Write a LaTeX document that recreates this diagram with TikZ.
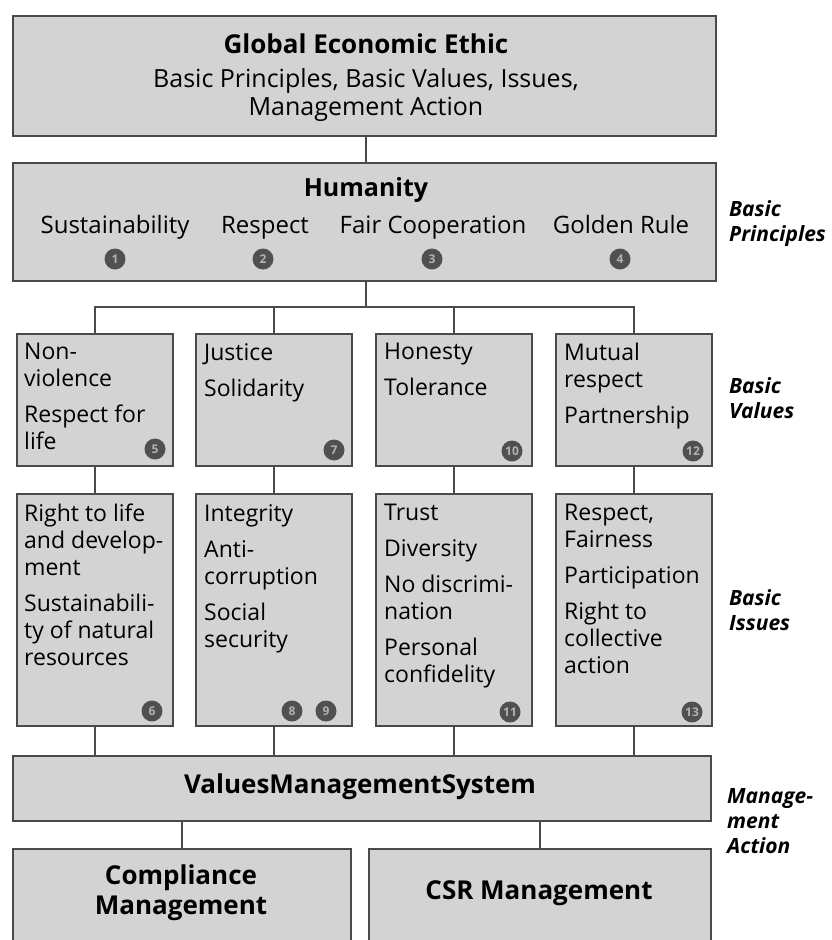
\documentclass[tikz,border=0pt]{standalone}
\usepackage{fontspec}
\setmainfont{Open Sans}
\usetikzlibrary{positioning}

\definecolor{boxgray}{HTML}{D3D3D3}
\definecolor{edgegray}{HTML}{4A4A4A}
\definecolor{dotgray}{HTML}{505050}

\tikzset{
  panel/.style={draw=edgegray, line width=2.4pt, fill=boxgray, anchor=north west, inner sep=0pt},
  boxtext/.style={anchor=north west, align=left, inner sep=0pt,
    font=\fontsize{23}{27}\selectfont},
  principle/.style={anchor=base, inner sep=0pt, font=\fontsize{24}{27}\selectfont},
  numdot/.style={circle, fill=dotgray, text=black!30, inner sep=0pt, minimum size=21pt,
    font=\fontsize{12}{12}\selectfont\bfseries},
  sidelabel/.style={anchor=west, align=left, inner sep=0pt,
    font=\fontsize{21}{25}\selectfont\bfseries\itshape},
  link/.style={draw=edgegray, line width=2pt}
}

\begin{document}
\begin{tikzpicture}[x=1pt,y=-1pt]
  \clip (0,0) rectangle (832,940);
  \fill[white] (0,0) rectangle (832,940);

  % top and principles
  \node[panel, minimum width=703pt, minimum height=120pt] (ethic) at (12,15) {};
  \node[align=center, font=\fontsize{25}{28}\selectfont] (ethicT) at (366,78)
    {{\fontsize{26}{28}\selectfont\bfseries Global Economic Ethic}\\[6pt]
     Basic Principles, Basic Values, Issues,\\Management Action};

  \node[panel, minimum width=703pt, minimum height=118pt] (human) at (12,162) {};
  \node[font=\fontsize{25}{28}\selectfont\bfseries] (humanT) at (366,190) {Humanity};
  \node[principle] (p1) at (115,233) {Sustainability};
  \node[principle] (p2) at (265,233) {Respect};
  \node[principle] (p3) at (433,233) {Fair Cooperation};
  \node[principle] (p4) at (621,233) {Golden Rule};
  \node[numdot] (d1) at (115,259) {1};
  \node[numdot] (d2) at (263,259) {2};
  \node[numdot] (d3) at (432,259) {3};
  \node[numdot] (d4) at (620,259) {4};

  % basic values
  \node[panel, minimum width=156pt, minimum height=132pt] (val1) at (16,333) {};
  \node[panel, minimum width=156pt, minimum height=132pt] (val2) at (195,333) {};
  \node[panel, minimum width=156pt, minimum height=132pt] (val3) at (375,333) {};
  \node[panel, minimum width=156pt, minimum height=132pt] (val4) at (555,333) {};
  \node[boxtext] (val1T) at (24,343) {Non-\\violence\\[9pt]Respect for\\life};
  \node[boxtext] (val2T) at (204,343) {Justice\\[9pt]Solidarity};
  \node[boxtext] (val3T) at (384,343) {Honesty\\[9pt]Tolerance};
  \node[boxtext] (val4T) at (564,343) {Mutual\\respect\\[9pt]Partnership};
  \node[numdot] (d5) at (155,449) {5};
  \node[numdot] (d7) at (334,450) {7};
  \node[numdot] (d10) at (512,451) {10};
  \node[numdot] (d12) at (693,451) {12};

  % basic issues
  \node[panel, minimum width=156pt, minimum height=232pt] (iss1) at (16,493) {};
  \node[panel, minimum width=156pt, minimum height=232pt] (iss2) at (195,493) {};
  \node[panel, minimum width=156pt, minimum height=232pt] (iss3) at (375,493) {};
  \node[panel, minimum width=156pt, minimum height=232pt] (iss4) at (555,493) {};
  \node[boxtext] (iss1T) at (24,504) {Right to life\\and develop-\\ment\\[9pt]Sustainabili-\\ty of natural\\resources};
  \node[boxtext] (iss2T) at (204,504) {Integrity\\[9pt]Anti-\\corruption\\[9pt]Social\\security};
  \node[boxtext] (iss3T) at (384,504) {Trust\\[9pt]Diversity\\[9pt]No discrimi-\\nation\\[9pt]Personal\\confidelity};
  \node[boxtext] (iss4T) at (564,504) {Respect,\\Fairness\\[9pt]Participation\\[9pt]Right to\\collective\\action};
  \node[numdot] (d6) at (152,711) {6};
  \node[numdot] (d8) at (292,711) {8};
  \node[numdot] (d9) at (326,711) {9};
  \node[numdot] (d11) at (510,712) {11};
  \node[numdot] (d13) at (692,712) {13};

  % management action
  \node[panel, minimum width=698pt, minimum height=65pt] (vms) at (12,755) {};
  \node[font=\fontsize{26}{28}\selectfont\bfseries] (vmsT) at (360,787) {ValuesManagementSystem};
  \node[panel, minimum width=338pt, minimum height=110pt] (comp) at (12,848) {};
  \node[panel, minimum width=342pt, minimum height=110pt] (csr) at (368,848) {};
  \node[align=center, font=\fontsize{26}{30}\selectfont\bfseries] (compT) at (181,893) {Compliance\\Management};
  \node[font=\fontsize{26}{30}\selectfont\bfseries] (csrT) at (539,893) {CSR Management};

  % side labels
  \node[sidelabel] (lbPrin) at (729,224) {Basic\\Principles};
  \node[sidelabel] (lbVal) at (729,398) {Basic\\Values};
  \node[sidelabel] (lbIss) at (729,610) {Basic\\Issues};
  \node[sidelabel] (lbAct) at (727,821) {Manage-\\ment\\Action};

  % connectors
  \coordinate (hub) at (366,307);
  \draw[link] (ethic.south -| ethicT) -- (human.north -| ethicT);
  \draw[link] (human.south -| hub) -- (hub);
  \draw[link] (hub) -| (val1.north);
  \draw[link] (hub) -| (val2.north);
  \draw[link] (hub) -| (val3.north);
  \draw[link] (hub) -| (val4.north);
  \draw[link] (val1.south) -- (iss1.north);
  \draw[link] (val2.south) -- (iss2.north);
  \draw[link] (val3.south) -- (iss3.north);
  \draw[link] (val4.south) -- (iss4.north);
  \draw[link] (iss1.south) -- (iss1.south |- vms.north);
  \draw[link] (iss2.south) -- (iss2.south |- vms.north);
  \draw[link] (iss3.south) -- (iss3.south |- vms.north);
  \draw[link] (iss4.south) -- (iss4.south |- vms.north);
  \draw[link] (vms.south -| comp.north) -- (comp.north);
  \draw[link] (vms.south -| csr.north) -- (csr.north);
\end{tikzpicture}
\end{document}
